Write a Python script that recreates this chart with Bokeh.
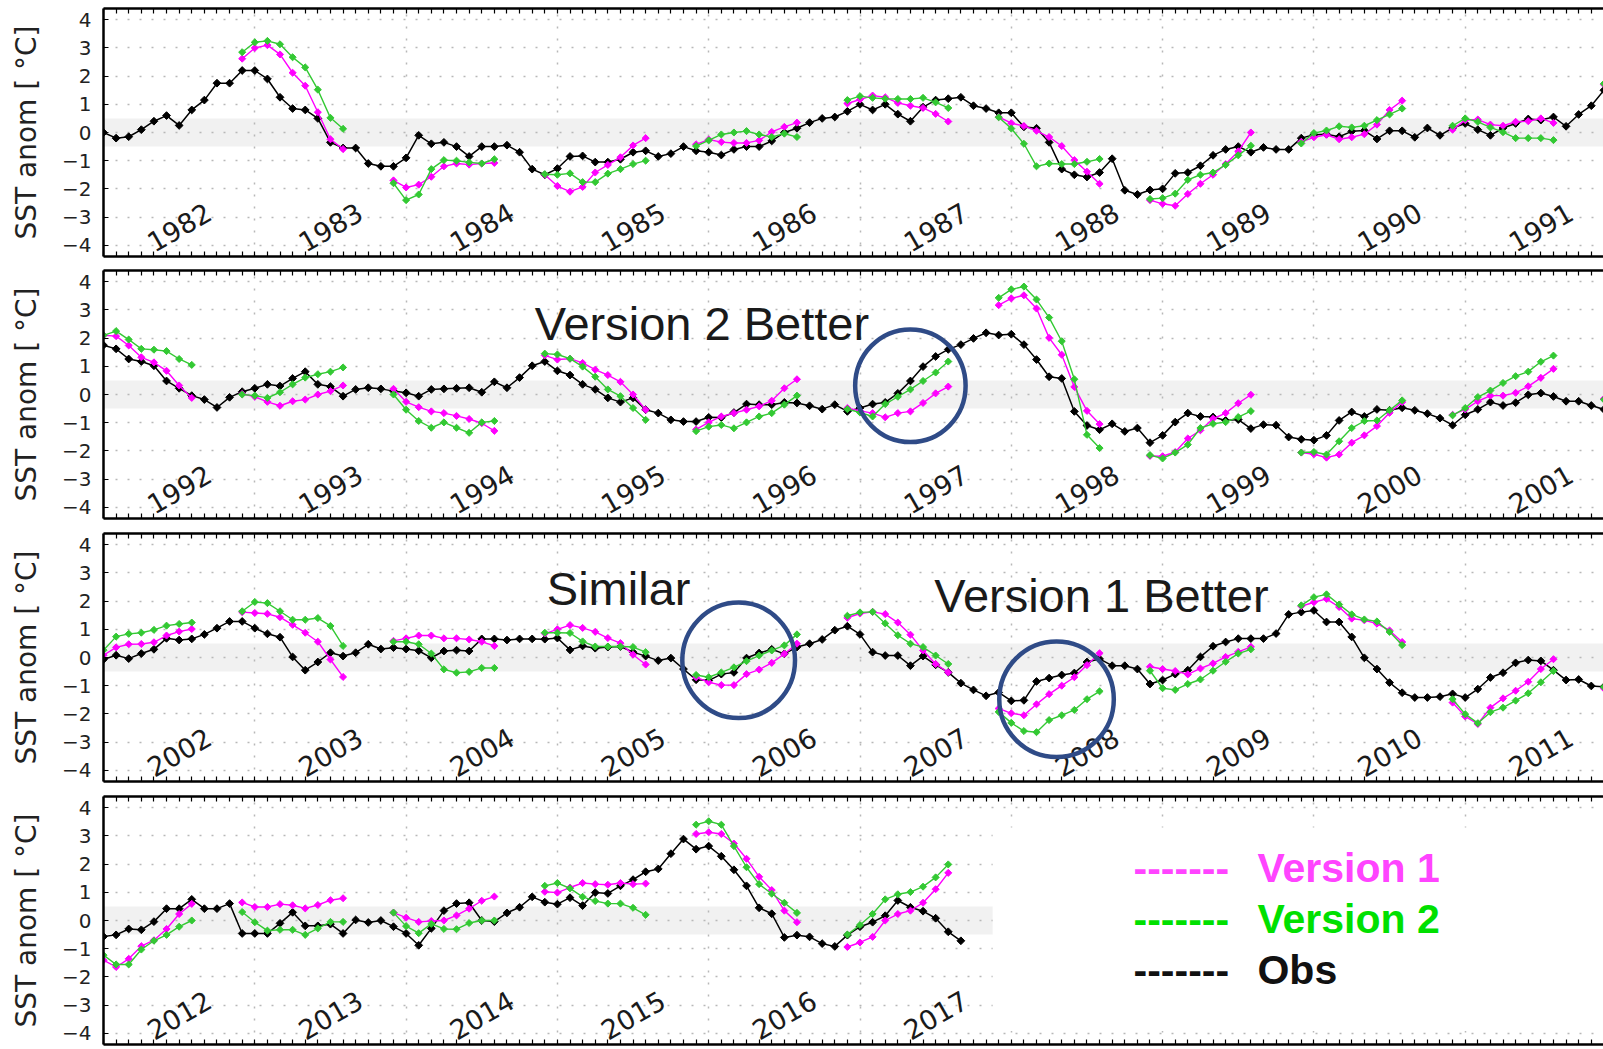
import math
from bokeh.plotting import figure
from bokeh.layouts import column
from bokeh.models import (FixedTicker, BoxAnnotation, Range1d, LinearAxis,
                          CustomJSTickFormatter)
from bokeh.core.properties import value
from bokeh.embed import file_html
from bokeh.resources import INLINE

# ---------------- data ----------------
FIRST_YEAR = 1982                      # month index 0 = Jan 1982
panel_start_years = [1982, 1992, 2002, 2012]

# Observed monthly SST anomaly
obs_1982_1991 = [
    0.0, -0.2, -0.15, 0.1, 0.4, 0.6, 0.25, 0.8, 1.15, 1.75, 1.75, 2.2,
    2.2, 1.9, 1.25, 0.85, 0.8, 0.5, -0.35, -0.55, -0.55, -1.1, -1.2, -1.2,
    -0.9, -0.1, -0.4, -0.35, -0.5, -0.85, -0.5, -0.5, -0.45, -0.7, -1.3, -1.5,
    -1.28, -0.85, -0.83, -1.05, -1.05, -0.95, -0.7, -0.65, -0.85, -0.75, -0.5, -0.65,
    -0.7, -0.8, -0.6, -0.5, -0.5, -0.3, 0.0, 0.15, 0.35, 0.5, 0.55, 0.75,
    1.0, 0.8, 1.0, 0.65, 0.4, 0.9, 1.15, 1.2, 1.25, 0.95, 0.85, 0.7,
    0.7, 0.2, 0.15, -0.35, -1.3, -1.5, -1.58, -1.42, -0.93, -2.05, -2.2, -2.04,
    -2.0, -1.45, -1.42, -1.18, -0.81, -0.6, -0.5, -0.7, -0.53, -0.6, -0.6, -0.2,
    -0.08, -0.06, -0.15, 0.04, 0.07, -0.23, 0.06, 0.06, -0.17, 0.16, -0.1, 0.16,
    0.32, 0.1, -0.1, 0.16, 0.32, 0.48, 0.44, 0.55, 0.22, 0.64, 0.95, 1.5]
obs_1992_2001 = [
    1.75, 1.62, 1.26, 1.17, 1.02, 0.48, 0.22, -0.04, -0.18, -0.46, -0.1, 0.1,
    0.22, 0.36, 0.3, 0.57, 0.81, 0.36, 0.28, -0.06, 0.18, 0.24, 0.2, 0.12,
    0.06, -0.06, 0.18, 0.2, 0.22, 0.24, 0.08, 0.45, 0.24, 0.6, 1.02, 1.17,
    0.84, 0.69, 0.36, 0.18, -0.12, -0.27, -0.12, -0.54, -0.66, -0.9, -0.96, -0.96,
    -0.81, -0.82, -0.64, -0.34, -0.36, -0.36, -0.28, -0.3, -0.4, -0.52, -0.36, -0.6,
    -0.48, -0.34, -0.28, 0.04, 0.48, 0.99, 1.35, 1.6, 1.77, 1.99, 2.19, 2.11,
    2.14, 1.77, 1.24, 0.63, 0.57, -0.6, -1.1, -1.25, -1.04, -1.31, -1.19, -1.71,
    -1.45, -0.98, -0.66, -0.78, -0.8, -0.92, -0.89, -1.21, -1.07, -1.09, -1.51, -1.59,
    -1.62, -1.45, -0.92, -0.62, -0.78, -0.53, -0.56, -0.47, -0.56, -0.68, -0.84, -1.09,
    -0.72, -0.53, -0.27, -0.39, -0.29, -0.01, 0.05, -0.07, -0.24, -0.24, -0.39, -0.53]
obs_2002_2011 = [
    -0.07, 0.08, -0.04, 0.14, 0.29, 0.68, 0.62, 0.66, 0.82, 1.04, 1.28, 1.28,
    1.04, 0.84, 0.72, 0.02, -0.45, -0.16, 0.17, 0.05, 0.17, 0.47, 0.3, 0.35,
    0.3, 0.24, -0.01, 0.23, 0.26, 0.23, 0.66, 0.66, 0.62, 0.66, 0.66, 0.65,
    0.69, 0.27, 0.41, 0.33, 0.37, 0.39, 0.19, 0.05, -0.11, -0.02, -0.41, -0.79,
    -0.82, -0.59, -0.53, -0.02, 0.16, 0.29, 0.13, 0.37, 0.49, 0.64, 0.97, 1.11,
    0.82, 0.19, 0.07, 0.07, -0.29, 0.05, -0.26, -0.53, -0.91, -1.15, -1.36, -1.24,
    -1.54, -1.52, -0.85, -0.73, -0.62, -0.55, -0.16, -0.05, -0.29, -0.29, -0.41, -0.94,
    -0.8, -0.59, -0.45, 0.02, 0.4, 0.55, 0.67, 0.67, 0.67, 0.85, 1.53, 1.61,
    1.67, 1.26, 1.26, 0.73, -0.01, -0.41, -0.89, -1.25, -1.42, -1.42, -1.39, -1.29,
    -1.42, -1.12, -0.71, -0.54, -0.19, -0.09, -0.12, -0.45, -0.8, -0.78, -1.01, -1.04]
obs_2012_2017 = [
    -0.57, -0.51, -0.3, -0.33, -0.04, 0.42, 0.42, 0.75, 0.42, 0.42, 0.6, -0.46,
    -0.46, -0.46, -0.1, 0.29, -0.19, -0.19, -0.13, -0.46, 0.02, -0.07, 0.0, -0.22,
    -0.46, -0.88, -0.28, 0.35, 0.6, 0.63, 0.0, -0.04, 0.27, 0.47, 0.84, 0.65,
    0.58, 0.81, 0.53, 0.99, 0.96, 1.23, 1.45, 1.73, 1.83, 2.37, 2.89, 2.53,
    2.64, 2.28, 1.8, 1.23, 0.45, 0.24, -0.6, -0.52, -0.58, -0.82, -0.92, -0.52,
    -0.22, -0.06, 0.17, 0.71, 0.47, 0.33, 0.08, -0.4, -0.72]

# Forecasts: start month (index since Jan 1982) and 9 monthly values each
fc_start_month = [11, 23, 35, 47, 59, 71, 83, 95, 107, 119,
                  131, 143, 155, 167, 179, 191, 203, 215, 227, 239,
                  251, 263, 275, 287, 299, 311, 323, 335, 347, 359,
                  371, 383, 395, 407, 419]
fc_version1 = [
    [2.62, 3.0, 3.1, 2.77, 2.12, 1.66, 0.72, -0.24, -0.59],
    [-1.7, -1.95, -1.85, -1.57, -1.2, -1.1, -1.14, -1.1, -1.08],
    [-1.5, -1.9, -2.1, -1.93, -1.42, -1.15, -0.88, -0.46, -0.2],
    [-0.42, -0.25, -0.34, -0.37, -0.37, -0.28, 0.02, 0.2, 0.35],
    [1.03, 1.17, 1.31, 1.25, 1.05, 0.95, 0.87, 0.66, 0.39],
    [0.55, 0.33, 0.23, 0.06, -0.16, -0.48, -0.98, -1.39, -1.82],
    [-2.4, -2.53, -2.6, -2.18, -1.82, -1.5, -1.12, -0.67, 0.0],
    [-0.33, -0.17, -0.08, -0.24, -0.17, -0.06, 0.28, 0.8, 1.13],
    [0.1, 0.44, 0.46, 0.28, 0.24, 0.38, 0.4, 0.5, 0.34],
    [1.7, 2.1, 2.07, 1.74, 1.32, 1.14, 0.84, 0.32, -0.12],
    [0.02, -0.08, -0.26, -0.4, -0.24, -0.18, 0.0, 0.12, 0.32],
    [0.2, -0.26, -0.45, -0.6, -0.66, -0.76, -0.87, -1.02, -1.29],
    [1.39, 1.24, 1.27, 1.12, 0.88, 0.69, 0.45, 0.0, -0.54],
    [-1.24, -0.99, -0.78, -0.66, -0.54, -0.42, -0.22, 0.22, 0.54],
    [-0.48, -0.58, -0.66, -0.81, -0.66, -0.6, -0.3, 0.04, 0.28],
    [3.17, 3.41, 3.52, 3.05, 2.01, 1.41, 0.27, -0.58, -1.05],
    [-2.18, -2.19, -2.04, -1.56, -1.27, -0.86, -0.66, -0.31, -0.01],
    [-2.06, -2.12, -2.24, -2.13, -1.71, -1.45, -1.12, -0.65, -0.27],
    [-0.72, -0.53, -0.24, -0.04, -0.04, 0.06, 0.29, 0.59, 0.91],
    [-0.15, 0.08, 0.36, 0.47, 0.48, 0.54, 0.78, 0.92, 1.01],
    [1.61, 1.58, 1.55, 1.43, 1.16, 0.88, 0.56, -0.07, -0.69],
    [0.59, 0.68, 0.78, 0.78, 0.68, 0.68, 0.64, 0.56, 0.41],
    [0.85, 1.0, 1.15, 1.05, 0.91, 0.69, 0.51, 0.1, -0.25],
    [-0.7, -0.88, -0.98, -0.98, -0.59, -0.43, -0.19, 0.13, 0.49],
    [1.41, 1.56, 1.62, 1.54, 1.24, 0.81, 0.25, -0.23, -0.53],
    [-1.81, -1.98, -2.05, -1.66, -1.3, -1.0, -0.7, -0.27, 0.15],
    [-0.33, -0.41, -0.48, -0.6, -0.39, -0.21, 0.02, 0.2, 0.38],
    [1.82, 1.96, 2.08, 1.79, 1.38, 1.32, 1.2, 0.96, 0.55],
    [-1.6, -2.09, -2.36, -1.78, -1.45, -1.18, -0.86, -0.41, -0.06],
    [-1.1, -1.41, -1.65, -1.36, -0.91, -0.7, -0.3, 0.23, 0.59],
    [0.64, 0.48, 0.48, 0.58, 0.54, 0.43, 0.55, 0.72, 0.79],
    [0.28, 0.1, -0.05, -0.02, 0.0, 0.18, 0.42, 0.7, 0.85],
    [1.02, 0.99, 1.17, 1.33, 1.29, 1.27, 1.33, 1.29, 1.31],
    [3.07, 3.13, 3.07, 2.73, 2.19, 1.55, 1.08, 0.35, -0.06],
    [-0.94, -0.78, -0.58, 0.0, 0.23, 0.35, 0.63, 1.11, 1.69]]
fc_version2 = [
    [2.85, 3.2, 3.25, 3.13, 2.67, 2.31, 1.52, 0.52, 0.13],
    [-1.8, -2.4, -2.2, -1.3, -0.98, -1.0, -1.06, -1.1, -0.95],
    [-1.48, -1.5, -1.45, -1.76, -1.76, -1.46, -1.3, -1.12, -1.0],
    [-0.48, -0.28, -0.07, 0.0, 0.05, -0.07, -0.16, -0.04, -0.16],
    [1.15, 1.29, 1.23, 1.2, 1.19, 1.19, 1.23, 1.07, 0.87],
    [0.54, 0.14, -0.4, -1.2, -1.1, -1.12, -1.12, -1.04, -0.94],
    [-2.36, -2.33, -2.17, -1.68, -1.5, -1.42, -1.15, -0.81, -0.47],
    [-0.39, -0.02, 0.07, 0.22, 0.18, 0.24, 0.44, 0.64, 0.85],
    [0.24, 0.5, 0.38, 0.18, 0.01, -0.2, -0.2, -0.2, -0.27],
    [1.73, 2.1, 2.25, 1.95, 1.62, 1.59, 1.54, 1.26, 1.05],
    [0.0, -0.04, -0.12, 0.08, 0.36, 0.6, 0.72, 0.81, 0.96],
    [0.0, -0.54, -0.94, -1.18, -0.99, -1.18, -1.36, -0.99, -0.94],
    [1.45, 1.42, 1.27, 0.99, 0.63, 0.18, -0.06, -0.48, -0.9],
    [-1.3, -1.14, -1.08, -1.2, -0.99, -0.78, -0.66, -0.36, -0.04],
    [-0.52, -0.64, -0.78, -0.34, -0.08, 0.18, 0.48, 0.78, 1.17],
    [3.43, 3.73, 3.83, 3.37, 2.73, 1.89, 0.54, -1.43, -1.9],
    [-2.15, -2.27, -2.06, -1.78, -1.19, -1.04, -0.98, -0.8, -0.59],
    [-2.06, -2.04, -2.13, -1.66, -1.19, -0.94, -0.92, -0.56, -0.21],
    [-0.74, -0.48, -0.09, 0.14, 0.41, 0.65, 0.81, 1.16, 1.38],
    [-0.18, 0.26, 0.74, 0.84, 0.88, 0.98, 1.13, 1.19, 1.24],
    [1.64, 1.97, 1.93, 1.64, 1.34, 1.34, 1.4, 1.12, 0.41],
    [0.56, 0.56, 0.47, 0.14, -0.42, -0.54, -0.51, -0.37, -0.37],
    [0.88, 0.88, 0.87, 0.57, 0.39, 0.39, 0.39, 0.37, 0.19],
    [-0.62, -0.7, -0.53, -0.35, -0.13, 0.07, 0.25, 0.43, 0.82],
    [1.48, 1.6, 1.62, 1.21, 0.79, 0.49, 0.37, 0.07, -0.23],
    [-1.93, -2.32, -2.61, -2.65, -2.22, -2.05, -1.86, -1.48, -1.2],
    [-0.47, -1.09, -1.15, -0.94, -0.78, -0.47, -0.15, 0.14, 0.29],
    [1.85, 2.14, 2.24, 1.88, 1.53, 1.35, 1.28, 0.91, 0.44],
    [-1.48, -2.01, -2.33, -1.94, -1.78, -1.53, -1.27, -0.88, -0.48],
    [-1.05, -1.23, -1.56, -1.56, -1.03, -0.72, -0.51, -0.22, 0.0],
    [0.3, -0.06, -0.36, -0.33, -0.33, -0.51, -0.28, -0.05, -0.05],
    [0.28, -0.2, -0.45, -0.12, -0.3, -0.31, -0.09, 0.0, 0.0],
    [1.23, 1.33, 1.14, 0.84, 0.69, 0.6, 0.6, 0.45, 0.2],
    [3.4, 3.52, 3.4, 2.64, 1.89, 1.29, 0.95, 0.63, 0.27],
    [-0.5, -0.16, 0.23, 0.75, 0.93, 1.01, 1.2, 1.53, 1.99]]

ytick_values = [-4, -3, -2, -1, 0, 1, 2, 3, 4]
ytick_labels = ["\u22124", "\u22123", "\u22122", "\u22121", "0", "1", "2", "3", "4"]
legend_labels = ["Version 1", "Version 2", "Obs"]
annotation_texts = ["Version 2 Better", "Similar", "Version 1 Better"]

# ---------------- layout / style ----------------
WIDTH = 1603
LEFT = 103
FRAME_W = WIDTH - LEFT
YEAR_PX = 151.3
SPAN = FRAME_W / YEAR_PX
Y_LO, Y_HI = -4.4, 4.4
FRAME_H = 248
borders = [(8, 7), (7, 8), (7, 8), (7, 4)]

C_V1 = "#ff00ff"
C_V2 = "#33c933"
C_OBS = "#000000"
LEG_COLORS = ["#ff44ff", "#00e000", "#111111"]
CIRCLE_COLOR = "#2f4b87"

# annotation placement (panel index, x, baseline y)
annot_pos = [(1, 1994.85, 2.52), (2, 2004.93, 2.45), (2, 2007.49, 2.2)]
# circle placement (panel, x, y, w, h)
circle_pos = [(1, 1997.333, 0.31, 0.73, 4.0),
              (2, 2006.198, -0.10, 0.745, 4.1),
              (2, 2008.299, -1.48, 0.757, 4.1)]

obs = obs_1982_1991 + obs_1992_2001 + obs_2002_2011 + obs_2012_2017
obs_x = [FIRST_YEAR + m / 12.0 for m in range(len(obs))]

fc_x = [[FIRST_YEAR + (s + k) / 12.0 for k in range(len(v))]
        for s, v in zip(fc_start_month, fc_version1)]
flat = lambda ll: [a for l in ll for a in l]

last_obs_year = int(obs_x[-1])
year_list = list(range(FIRST_YEAR, last_obs_year + 1))


def blank_axis(ax, ticks):
    ax.ticker = FixedTicker(ticks=ticks)
    ax.formatter = CustomJSTickFormatter(code="return ''")
    ax.major_label_text_font_size = "0px"
    ax.major_label_standoff = 0
    ax.major_tick_in = 5
    ax.major_tick_out = 0
    ax.minor_tick_line_color = None
    ax.axis_line_width = 2.5
    ax.axis_line_color = "black"
    ax.major_tick_line_color = "black"
    ax.major_tick_line_width = 1.2


panels = []
for i, y0 in enumerate(panel_start_years):
    bt, bb = borders[i]
    p = figure(width=WIDTH, height=bt + FRAME_H + bb,
               x_range=Range1d(y0, y0 + SPAN), y_range=Range1d(Y_LO, Y_HI),
               output_backend="svg", toolbar_location=None,
               min_border_left=LEFT, min_border_right=0,
               min_border_top=bt, min_border_bottom=bb)
    p.outline_line_color = None
    p.background_fill_color = "white"

    month_ticks = [y0 + k / 12.0 for k in range(0, 121)]
    blank_axis(p.xaxis[0], month_ticks)
    top = LinearAxis()
    blank_axis(top, month_ticks)
    p.add_layout(top, "above")

    ya = p.yaxis[0]
    ya.ticker = FixedTicker(ticks=ytick_values)
    ya.major_label_overrides = {v: t for v, t in zip(ytick_values, ytick_labels)}
    ya.major_tick_in = 5
    ya.major_tick_out = 0
    ya.minor_tick_line_color = None
    ya.axis_line_width = 2.5
    ya.major_label_text_font = "DejaVu Sans"
    ya.major_label_text_font_size = "20px"
    ya.major_label_text_color = "#222222"
    ya.major_label_standoff = 12
    ya.axis_label = "SST anom [ \u00b0C]"
    ya.axis_label_text_font = "DejaVu Sans"
    ya.axis_label_text_font_size = "28px"
    ya.axis_label_text_font_style = "normal"
    ya.axis_label_text_color = "#222222"
    ya.axis_label_standoff = 16

    p.xgrid.ticker = FixedTicker(ticks=[y0 + k for k in range(0, 11)])
    p.ygrid.ticker = FixedTicker(ticks=ytick_values)
    for g in (p.xgrid, p.ygrid):
        g.grid_line_color = "#b8b8b8"
        g.grid_line_dash = "2 10"
        g.grid_line_width = 1.5

    p.add_layout(BoxAnnotation(bottom=-0.5, top=0.5, fill_color="#f1f1f1",
                               fill_alpha=1.0, line_color=None, level="image"))

    # observations
    p.line(obs_x, obs, line_color=C_OBS, line_width=1.5)
    p.scatter(obs_x, obs, marker="square", angle=math.pi / 4, size=5.5,
              fill_color=C_OBS, line_color=C_OBS)
    # forecasts
    for ys, col in ((fc_version1, C_V1), (fc_version2, C_V2)):
        p.multi_line(fc_x, ys, line_color=col, line_width=1.4)
        p.scatter(flat(fc_x), flat(ys), marker="square", angle=math.pi / 4,
                  size=5, fill_color=col, line_color=col)

    # year labels inside the panel
    yrs = [y for y in year_list if y0 <= y < y0 + 10]
    p.text(x=[y + 0.5 for y in yrs], y=[-3.36] * len(yrs), text=[str(y) for y in yrs],
           angle=math.pi / 6, text_align="center", text_baseline="middle",
           text_font=value("DejaVu Sans"), text_font_size="27px", text_color="#1a1a1a")

    # annotations
    for (pi_, ax_, ay_), txt in zip(annot_pos, annotation_texts):
        if pi_ == i:
            p.text(x=[ax_], y=[ay_], text=[txt], text_align="left",
                   text_baseline="alphabetic", text_font=value("Liberation Sans"),
                   text_font_size="47px", text_color="#1a1a1a")
    cs = [c for c in circle_pos if c[0] == i]
    if cs:
        p.ellipse(x=[c[1] for c in cs], y=[c[2] for c in cs],
                  width=[c[3] for c in cs], height=[c[4] for c in cs],
                  fill_color=None, line_color=CIRCLE_COLOR, line_width=4.5)
    panels.append(p)

# legend area on the last panel: white cover, then legend texts on top
p4 = panels[-1]
p4.quad(left=[obs_x[-1] + 0.21], right=[2030.0], bottom=[-3.92], top=[3.3],
        fill_color="white", fill_alpha=1.0, line_color=None)
leg_y = [1.85, 0.04, -1.77]
x_dash = 2018.808
x_text = 2019.627
p4.text(x=[x_dash] * 3, y=leg_y, text=["-------"] * 3, text_align="left",
        text_baseline="middle", text_font=value("Liberation Sans"),
        text_font_style="bold", text_font_size="41px", text_color=LEG_COLORS)
p4.text(x=[x_text] * 3, y=leg_y, text=legend_labels, text_align="left",
        text_baseline="middle", text_font=value("Liberation Sans"),
        text_font_style="bold", text_font_size="41px", text_color=LEG_COLORS)

layout = column(*panels, spacing=0)
open("out.html", "w").write(file_html(layout, INLINE))
